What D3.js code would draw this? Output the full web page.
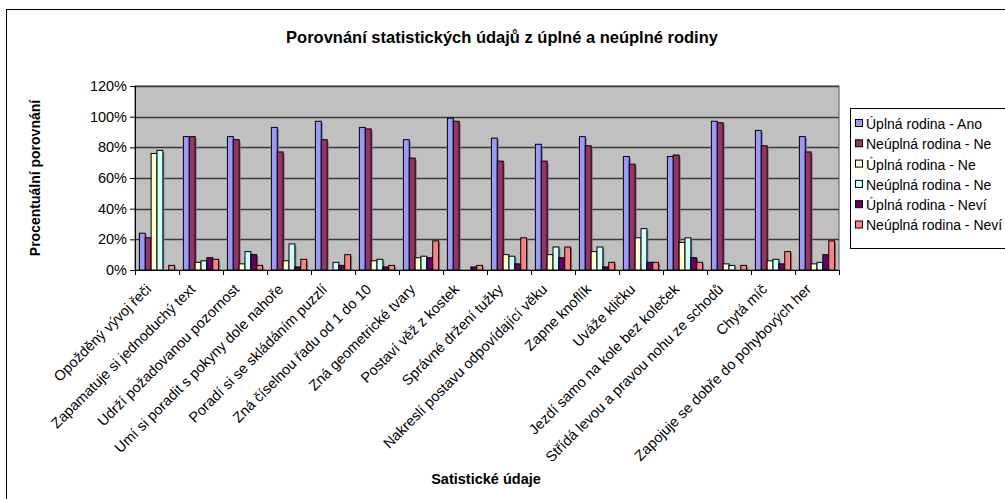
<!DOCTYPE html>
<html>
<head>
<meta charset="utf-8">
<script src="https://cdn.jsdelivr.net/npm/d3@7"></script>
<style>
  body { margin: 0; background: #fff; }
  text { font-family: "Liberation Sans", Arial, sans-serif; }
</style>
</head>
<body>
<div id="chart"></div>
<script>
// categories (x axis)
const categories = [
    "Opožděný vývoj řeči",
    "Zapamatuje si jednoduchý text",
    "Udrží požadovanou pozornost",
    "Umí si poradit s pokyny dole nahoře",
    "Poradí si se skládáním puzzlí",
    "Zná číselnou řadu od 1 do 10",
    "Zná geometrické tvary",
    "Postaví věž z kostek",
    "Správné držení tužky",
    "Nakreslí postavu odpovídající věku",
    "Zapne knoflík",
    "Uváže kličku",
    "Jezdí samo na kole bez koleček",
    "Střídá levou a pravou nohu ze schodů",
    "Chytá míč",
    "Zapojuje se dobře do pohybových her"
];

const seriesNames = [
    "Úplná rodina - Ano",
    "Neúplná rodina - Ne",
    "Úplná rodina - Ne",
    "Neúplná rodina - Ne",
    "Úplná rodina - Neví",
    "Neúplná rodina - Neví"
];

// values in %
const uplnaAno    = [24, 87, 87, 93, 97, 93, 85, 99, 86, 82, 87, 74, 74, 97, 91, 87];
const neuplnaNe1  = [21, 87, 85, 77, 85, 92, 73, 97, 71, 71, 81, 69, 75, 96, 81, 77];
const uplnaNe     = [76, 5, 4, 6, 0, 6, 8, 0, 10, 10, 12, 21, 18, 4, 6, 4];
const neuplnaNe2  = [78, 6, 12, 17, 5, 7, 9, 0, 9, 15, 15, 27, 21, 3, 7, 5];
const uplnaNevi   = [0, 8, 10, 2, 3, 2, 8, 2, 4, 8, 2, 5, 8, 0, 4, 10];
const neuplnaNevi = [3, 7, 3, 7, 10, 3, 19, 3, 21, 15, 5, 5, 5, 3, 12, 19];

const yTicks = [0, 20, 40, 60, 80, 100, 120];

const seriesValues = [uplnaAno, neuplnaNe1, uplnaNe, neuplnaNe2, uplnaNevi, neuplnaNevi];
const colors = ["#9999FF", "#993366", "#FFFFCC", "#CCFFFF", "#660066", "#FF8080"];

const width = 1005, height = 499;
const plot = {left: 135, right: 839, top: 86, bottom: 270};

const svg = d3.select("#chart").append("svg")
    .attr("width", width)
    .attr("height", height);

// outer chart frame
svg.append("rect")
    .attr("x", 6.5).attr("y", 9.5)
    .attr("width", 1010).attr("height", 520)
    .attr("fill", "#fff")
    .attr("stroke", "#000");

// title
svg.append("text")
    .attr("x", 502)
    .attr("y", 43)
    .attr("text-anchor", "middle")
    .attr("font-weight", "bold")
    .attr("font-size", "16.5px")
    .text("Porovnání statistických údajů z úplné a neúplné rodiny");

// scales
const x = d3.scaleBand()
    .domain(categories)
    .range([plot.left, plot.right]);

const xs = d3.scaleBand()
    .domain(d3.range(seriesNames.length))
    .range([0, x.bandwidth()])
    .paddingOuter(0.75);

const y = d3.scaleLinear()
    .domain([0, 120])
    .range([plot.bottom, plot.top]);

// plot background
svg.append("rect")
    .attr("x", plot.left).attr("y", plot.top)
    .attr("width", plot.right - plot.left)
    .attr("height", plot.bottom - plot.top)
    .attr("fill", "#C0C0C0")
    .attr("stroke", "#555");

// gridlines
svg.append("g")
    .selectAll("line")
    .data(yTicks.filter(d => d > 0))
    .join("line")
    .attr("x1", plot.left).attr("x2", plot.right)
    .attr("y1", d => Math.round(y(d)) + 0.5)
    .attr("y2", d => Math.round(y(d)) + 0.5)
    .attr("stroke", "#3a3a3a")
    .attr("stroke-width", 1.3);

// bars
const groups = svg.append("g")
    .selectAll("g")
    .data(seriesValues)
    .join("g")
    .attr("fill", (d, i) => colors[i]);

groups.each(function(vals, si) {
    const g = d3.select(this);
    const pts = vals.map((v, ci) => ({v, ci})).filter(d => d.v > 0);
    // slight shadow
    g.selectAll("rect.shadow")
        .data(pts)
        .join("rect")
        .attr("class", "shadow")
        .attr("x", d => x(categories[d.ci]) + xs(si) + 1.5)
        .attr("y", d => y(d.v) + 1.5)
        .attr("width", xs.bandwidth())
        .attr("height", d => y(0) - y(d.v) - 1.5)
        .attr("fill", "#777");
    g.selectAll("rect.bar")
        .data(pts)
        .join("rect")
        .attr("class", "bar")
        .attr("x", d => x(categories[d.ci]) + xs(si))
        .attr("y", d => y(d.v))
        .attr("width", xs.bandwidth())
        .attr("height", d => y(0) - y(d.v))
        .attr("stroke", "#000")
        .attr("stroke-width", 1);
});

// y axis
const yAxis = d3.axisLeft(y)
    .tickValues(yTicks)
    .tickSize(5)
    .tickFormat(d => d + "%");

svg.append("g")
    .attr("transform", "translate(" + plot.left + ",0)")
    .call(yAxis)
    .call(g => g.select(".domain").attr("stroke", "#000"))
    .call(g => g.selectAll("text")
        .attr("font-size", "14.5px")
        .attr("font-family", "Liberation Sans, Arial, sans-serif")
        .attr("fill", "#000")
        .attr("x", -8));

// x axis: ticks between categories
const xAxis = d3.axisBottom(x).tickSize(0).tickFormat("");
svg.append("g")
    .attr("transform", "translate(0," + plot.bottom + ")")
    .call(xAxis)
    .call(g => g.select(".domain").attr("stroke", "#000"));

svg.append("g")
    .selectAll("line")
    .data(categories.concat(["__end"]))
    .join("line")
    .attr("x1", (d, i) => plot.left + i * x.step() + 0.5)
    .attr("x2", (d, i) => plot.left + i * x.step() + 0.5)
    .attr("y1", plot.bottom)
    .attr("y2", plot.bottom + 5)
    .attr("stroke", "#000");

// x tick labels rotated
svg.append("g")
    .selectAll("text")
    .data(categories)
    .join("text")
    .attr("transform", d => "translate(" + (x(d) + x.bandwidth() / 2 - 12) + "," + (plot.bottom + 13) + ") rotate(-45)")
    .attr("text-anchor", "end")
    .attr("dy", "0.7em")
    .attr("font-size", "14.5px")
    .text(d => d);

// axis titles
svg.append("text")
    .attr("transform", "translate(40," + ((plot.top + plot.bottom) / 2) + ") rotate(-90)")
    .attr("text-anchor", "middle")
    .attr("font-weight", "bold")
    .attr("font-size", "14px")
    .text("Procentuální porovnání");

svg.append("text")
    .attr("x", 486)
    .attr("y", 484)
    .attr("text-anchor", "middle")
    .attr("font-weight", "bold")
    .attr("font-size", "14.5px")
    .text("Satistické údaje");

// legend
const legend = svg.append("g").attr("transform", "translate(850,108)");
legend.append("rect")
    .attr("x", 0.5).attr("y", 0.5)
    .attr("width", 155).attr("height", 140)
    .attr("fill", "#fff")
    .attr("stroke", "#000");

const items = legend.selectAll("g.item")
    .data(seriesNames)
    .join("g")
    .attr("class", "item")
    .attr("transform", (d, i) => "translate(0," + (16 + i * 20.3) + ")");

items.append("rect")
    .attr("x", 5.5).attr("y", -4.5)
    .attr("width", 7).attr("height", 7)
    .attr("fill", (d, i) => colors[i])
    .attr("stroke", "#000");

items.append("text")
    .attr("x", 16)
    .attr("y", 0)
    .attr("dy", "0.35em")
    .attr("font-size", "14px")
    .text(d => d);
</script>
</body>
</html>
